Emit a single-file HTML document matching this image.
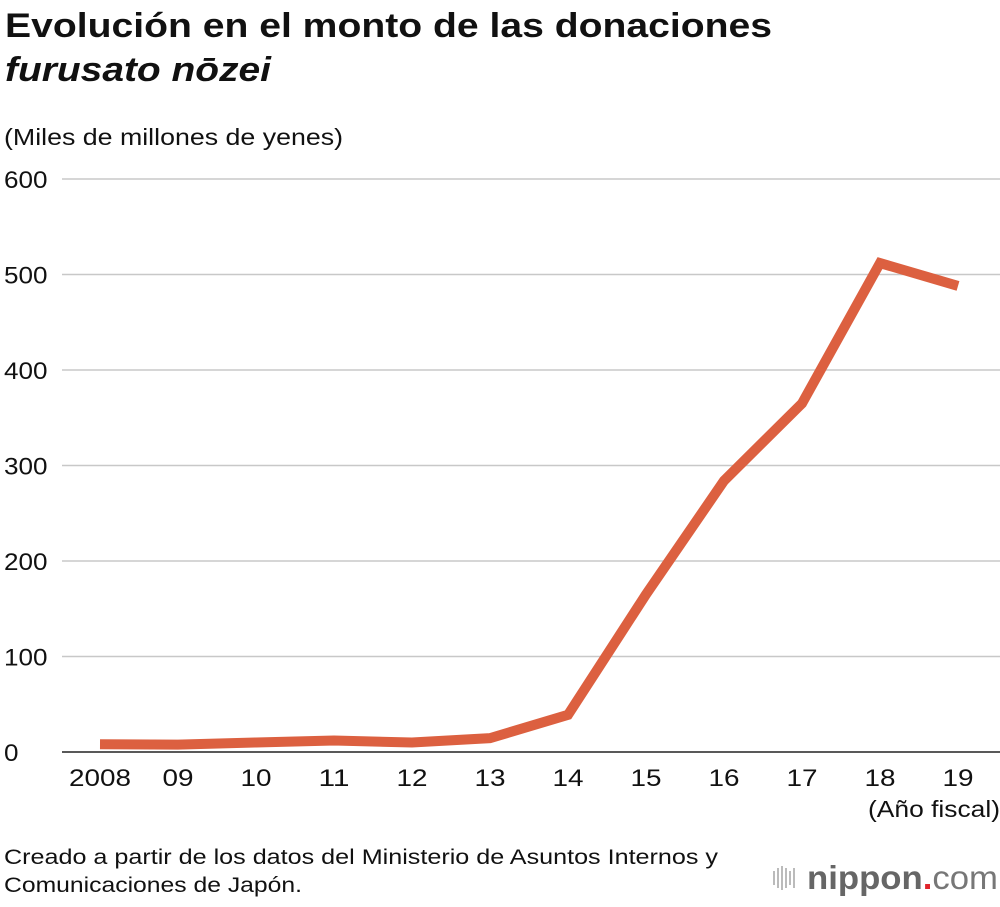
<!DOCTYPE html>
<html><head><meta charset="utf-8"><style>
body{margin:0;background:#fff;width:1000px;height:902px;overflow:hidden;font-family:"Liberation Sans",sans-serif;}
</style></head><body>
<svg width="1000" height="902" xmlns="http://www.w3.org/2000/svg" font-family="Liberation Sans, sans-serif">
<text x="5" y="37" font-size="34" font-weight="bold" fill="#111" textLength="767" lengthAdjust="spacingAndGlyphs">Evolución en el monto de las donaciones</text>
<text x="5" y="81" font-size="34" font-weight="bold" font-style="italic" fill="#111" textLength="266" lengthAdjust="spacingAndGlyphs">furusato nōzei</text>
<text x="4" y="145" font-size="23" fill="#111" textLength="339" lengthAdjust="spacingAndGlyphs">(Miles de millones de yenes)</text>
<g id="grid"></g><g id="xt"></g>
<polyline id="line" fill="none" stroke="#dc6040" stroke-width="10" stroke-linejoin="miter"/>
<text x="1000" y="817" font-size="23" text-anchor="end" fill="#111" textLength="132" lengthAdjust="spacingAndGlyphs">(Año fiscal)</text>
<text x="4" y="864" font-size="21" fill="#111" textLength="714" lengthAdjust="spacingAndGlyphs">Creado a partir de los datos del Ministerio de Asuntos Internos y</text>
<text x="4" y="892" font-size="21" fill="#111" textLength="298" lengthAdjust="spacingAndGlyphs">Comunicaciones de Japón.</text>
<g>
<g fill="#bbb"><rect x="773" y="871" width="2" height="14"/><rect x="777" y="868" width="2" height="20"/><rect x="781" y="866" width="2" height="24"/><rect x="785" y="868" width="2" height="20"/><rect x="789" y="871" width="2" height="14"/><rect x="793" y="868" width="2" height="20"/></g>
<text x="807" y="889" font-size="33" font-weight="bold" fill="#666" textLength="191" lengthAdjust="spacingAndGlyphs">nippon<tspan fill="#e0242c">.</tspan><tspan font-weight="normal" fill="#777">com</tspan></text>
</g>
</svg>
<script>
const categories=["2008","09","10","11","12","13","14","15","16","17","18","19"];
const values=[8.1,7.7,10,12,10,14.5,38.9,165,284,365,512,488];
const yTicks=[0,100,200,300,400,500,600];
const NS="http://www.w3.org/2000/svg";
const x=i=>100+i*78;
const y=v=>752-v*0.955;
const g=document.getElementById('grid');
yTicks.forEach(t=>{
 const l=document.createElementNS(NS,'line');
 l.setAttribute('x1',62);l.setAttribute('x2',1000);l.setAttribute('y1',y(t));l.setAttribute('y2',y(t));
 l.setAttribute('stroke',t===0?'#222':'#c8c8c8');l.setAttribute('stroke-width',1.5);
 
 
 g.appendChild(l);
 const tx=document.createElementNS(NS,'text');
 tx.setAttribute('x',4);tx.setAttribute('y',y(t)+9);tx.setAttribute('font-size',24);tx.setAttribute('fill','#111');
 tx.setAttribute('textLength',String(t).length*14.5);tx.setAttribute('lengthAdjust','spacingAndGlyphs');
 tx.textContent=t;
 
 
 g.appendChild(tx);
});
const xt=document.getElementById('xt');
categories.forEach((c,i)=>{
 const tx=document.createElementNS(NS,'text');
 tx.setAttribute('x',x(i));tx.setAttribute('y',786);tx.setAttribute('font-size',24);tx.setAttribute('text-anchor','middle');tx.setAttribute('fill','#111');
 tx.setAttribute('textLength',c.length*15.5);tx.setAttribute('lengthAdjust','spacingAndGlyphs');
 tx.textContent=c;
 
 
 xt.appendChild(tx);
});
document.getElementById('line').setAttribute('points',values.map((v,i)=>x(i)+','+y(v)).join(' '));
</script>
</body></html>
